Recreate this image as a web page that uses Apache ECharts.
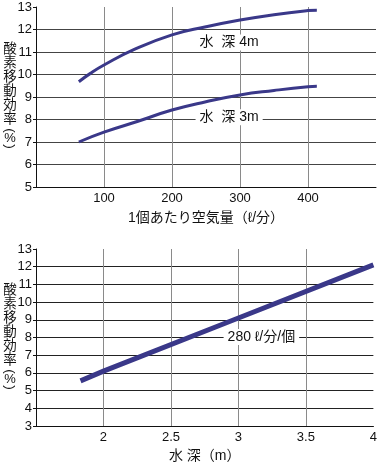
<!DOCTYPE html>
<html><head><meta charset="utf-8">
<script src="https://cdn.jsdelivr.net/npm/echarts@6/dist/echarts.min.js"></script>
<style>html,body{margin:0;padding:0;background:#fff}#c{width:380px;height:464px}</style>
</head><body><div id="c"></div>
<script>
// Top chart: air flow per diffuser (ℓ/min) vs oxygen transfer efficiency (%)
const airFlow4m = [63, 80, 100, 143, 200, 250, 300, 350, 400, 413];
const eff4m = [9.68, 10.05, 10.42, 11.09, 11.76, 12.12, 12.42, 12.66, 12.84, 12.86];
const airFlow3m = [63, 100, 150, 200, 250, 300, 350, 400, 413];
const eff3m = [7.0, 7.44, 7.92, 8.42, 8.79, 9.09, 9.29, 9.46, 9.48];
// Bottom chart: water depth (m) vs efficiency at 280 ℓ/min/diffuser
const depth = [1.83, 2, 3, 4];
const effDepth = [5.55, 6.1, 9.1, 12.1];
const topYTicks = [5, 13, 1];
const botYTicks = [3, 13, 1];
const topXTicks = [0, 500, 100];
const botXTicks = [1.5, 4, 0.5];
const label4m = '水  深 4m', label3m = '水  深 3m', label280 = '280 ℓ/分/個';
const yNameMain = '酸素移動効率';
const yNameUnit = ['(', '%', ')'];
const xNameTop = '1個あたり空気量（ℓ/分）';
const xNameBot = '水 深（m）';

const FONT = '"Liberation Sans", "Noto Sans CJK JP", sans-serif';
const LINE = '#3a3889';
const chart = echarts.init(document.getElementById('c'), null, {renderer: 'canvas'});
const pair = (xs, ys) => xs.map((x, i) => [x, ys[i]]);
const clear = 'rgba(0,0,0,0)';
function xColors(n){ const a=[]; for(let i=0;i<n;i++) a.push(i===0||i===n-1?clear:'#8a8a8a'); return a; }
function yColors(n, c){ const a=[]; for(let i=0;i<n;i++) a.push(i===n-1?clear:c); return a; }

function xAxis(gi, t, name, gap){
  return {gridIndex: gi, type: 'value', min: t[0], max: t[1], interval: t[2],
    axisLine: {show: true, lineStyle: {color: '#111', width: 1}},
    axisTick: {show: false},
    axisLabel: {color: '#111', fontSize: 13, fontFamily: FONT, margin: 5, showMinLabel: false, showMaxLabel: gi===1,
      formatter: v => String(v)},
    splitLine: {show: true, lineStyle: {color: xColors(Math.round((t[1]-t[0])/t[2])+1), width: 1}},
    name: name, nameLocation: 'middle', nameGap: gap,
    nameTextStyle: {color: '#111', fontSize: 14, fontFamily: FONT}};
}
function yAxis(gi, t, c){
  return {gridIndex: gi, type: 'value', min: t[0], max: t[1], interval: t[2],
    axisLine: {show: true, onZero: false, lineStyle: {color: '#111', width: 1}},
    axisTick: {show: true, length: 3, lineStyle: {color: '#111'}},
    axisLabel: {color: '#111', fontSize: 13, fontFamily: FONT, margin: 4},
    splitLine: {show: true, lineStyle: {color: yColors(Math.round((t[1]-t[0])/t[2])+1, c), width: 1}}};
}
function tag(text, coord){
  return {coord: coord, symbol: 'circle', symbolSize: 1, itemStyle: {color: clear},
    label: {show: true, position: 'inside', formatter: text, color: '#111', fontSize: 14, fontFamily: FONT,
      backgroundColor: '#fff', padding: [1, 4]}};
}
function nameGraphic(top){
  const ts = {fontSize: 13.5, fontFamily: FONT, fill: '#111', align: 'center'};
  return [
    {type: 'text', x: 10, y: top, style: Object.assign({}, ts, {text: yNameMain.split('').join('\n'), lineHeight: 14, verticalAlign: 'top'})},
    {type: 'text', x: 10, y: top + 88.5, rotation: -Math.PI/2, style: Object.assign({}, ts, {text: yNameUnit[0], verticalAlign: 'middle'})},
    {type: 'text', x: 10, y: top + 96.5, style: Object.assign({}, ts, {text: yNameUnit[1], verticalAlign: 'middle', fontSize: 13})},
    {type: 'text', x: 10, y: top + 104.5, rotation: -Math.PI/2, style: Object.assign({}, ts, {text: yNameUnit[2], verticalAlign: 'middle'})}
  ];
}

chart.setOption({
  animation: false,
  backgroundColor: '#fff',
  textStyle: {fontFamily: FONT},
  grid: [
    {left: 36, right: 4, top: 7, height: 180},
    {left: 36, right: 4, top: 249, height: 180}
  ],
  xAxis: [xAxis(0, topXTicks, xNameTop, 24), xAxis(1, botXTicks, xNameBot, 23)],
  yAxis: [yAxis(0, topYTicks, '#444'), yAxis(1, botYTicks, '#222')],
  graphic: nameGraphic(42).concat(nameGraphic(283)),
  series: [
    {type: 'line', xAxisIndex: 0, yAxisIndex: 0, data: pair(airFlow4m, eff4m), smooth: true, showSymbol: false,
      lineStyle: {color: LINE, width: 3}, z: 3,
      markPoint: {silent: true, data: [tag(label4m, [284, 11.42])]}},
    {type: 'line', xAxisIndex: 0, yAxisIndex: 0, data: pair(airFlow3m, eff3m), smooth: true, showSymbol: false,
      lineStyle: {color: LINE, width: 3}, z: 3,
      markPoint: {silent: true, data: [tag(label3m, [284, 8.1])]}},
    {type: 'line', xAxisIndex: 1, yAxisIndex: 1, data: pair(depth, effDepth), showSymbol: false,
      lineStyle: {color: LINE, width: 5}, z: 3,
      markPoint: {silent: true, data: [tag(label280, [3.17, 8.03])]}}
  ]
});
</script></body></html>
